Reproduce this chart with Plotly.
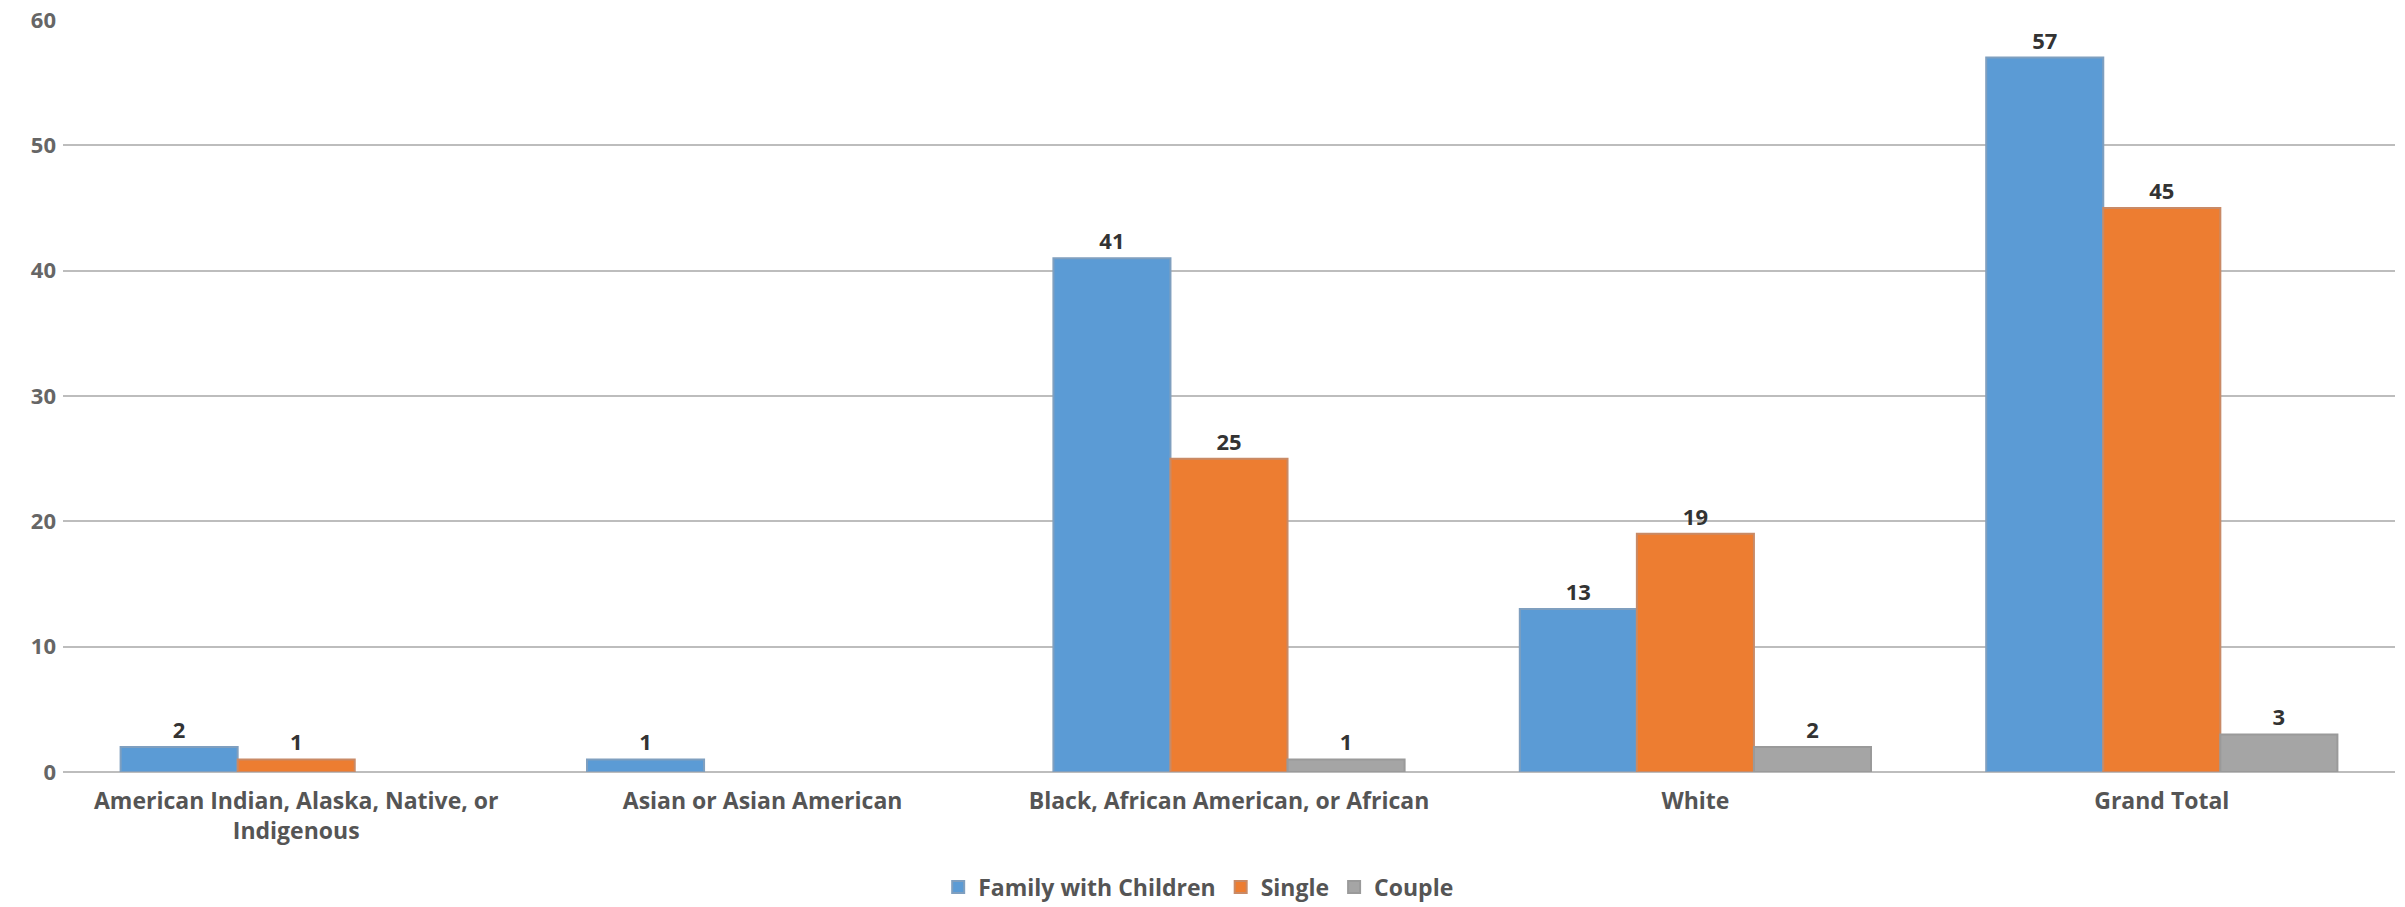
import plotly.graph_objects as go

categories = [
    "American Indian, Alaska, Native, or<br>Indigenous",
    "Asian or Asian American",
    "Black, African American, or African",
    "White",
    "Grand Total",
]
family_with_children = [2, 1, 41, 13, 57]
single = [1, None, 25, 19, 45]
couple = [None, None, 1, 2, 3]
y_ticks = [0, 10, 20, 30, 40, 50, 60]

series = [
    ("Family with Children", family_with_children, "#5b9bd5", "#7f9fbf"),
    ("Single", single, "#ed7d31", "#c98a66"),
    ("Couple", couple, "#a5a5a5", "#9a9a9a"),
]

FONT = "Open Sans"

fig = go.Figure()
for name, vals, color, edge in series:
    fig.add_trace(go.Bar(
        name=name,
        x=categories,
        y=vals,
        marker=dict(color=color, line=dict(color=edge, width=2)),
        text=[str(v) if v is not None else "" for v in vals],
        textposition="outside",
        textfont=dict(family=FONT, size=22, color="#333333", weight="bold"),
        cliponaxis=False,
    ))

fig.update_layout(
    width=2405,
    height=907,
    margin=dict(l=63, r=10, t=20, b=135, autoexpand=False),
    paper_bgcolor="white",
    plot_bgcolor="white",
    barmode="group",
    bargap=0.247,
    bargroupgap=0,
    font=dict(family=FONT, color="#555555"),
    legend=dict(
        orientation="h",
        x=0.487, xanchor="center",
        yref="container",
        y=0.022, yanchor="middle",
        font=dict(family=FONT, size=23, color="#555555", weight="bold"),
        itemwidth=30,
        tracegroupgap=0,
    ),
    xaxis=dict(
        automargin=False,
        showgrid=False,
        showline=False,
        ticks="",
        ticklen=0,
        ticklabelstandoff=13,
        tickfont=dict(family=FONT, size=23, color="#555555", weight="bold"),
    ),
    yaxis=dict(
        automargin=False,
        range=[0, 60],
        tickvals=y_ticks,
        showgrid=True,
        gridcolor="#bdbdbd",
        gridwidth=2,
        zeroline=True,
        zerolinecolor="#bdbdbd",
        zerolinewidth=2,
        showline=False,
        ticks="",
        ticklen=0,
        ticklabelstandoff=6,
        tickfont=dict(family=FONT, size=22, color="#666666", weight="bold"),
    ),
)

fig.write_html("out.html")
